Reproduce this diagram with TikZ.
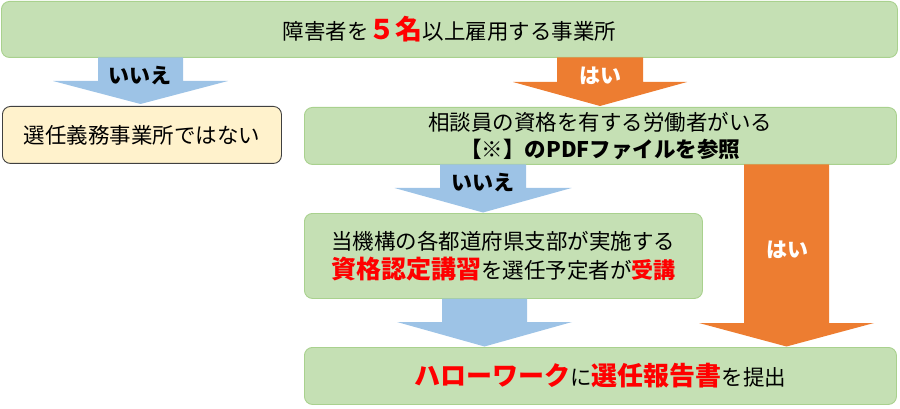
\documentclass[tikz,border=0pt]{standalone}
\usepackage{fontspec}
\newfontfamily\jp{Noto Sans CJK JP}
\definecolor{boxgreen}{HTML}{C5E0B4}
\definecolor{boxgreenline}{HTML}{A9D18E}
\definecolor{boxcream}{HTML}{FFF2CC}
\definecolor{arrblue}{HTML}{9DC3E6}
\definecolor{arrorange}{HTML}{ED7D31}
\definecolor{txtred}{HTML}{FF0000}
\newcommand{\rb}[2][26]{{\fontsize{#1}{#1}\selectfont\bfseries\color{txtred}#2}}
% cx, shaft top, head top, tip, shaft half width, head half width, colour
\newcommand{\myblockarrow}[7]{%
  \fill[#7] (#1-#5,#2) -- (#1+#5,#2) -- (#1+#5,#3) -- (#1+#6,#3) -- (#1,#4)
    -- (#1-#6,#3) -- (#1-#5,#3) -- cycle;}
\begin{document}
\begin{tikzpicture}[x=1pt,y=-1pt,
  greenbox/.style={draw=boxgreenline, line width=0.9pt, fill=boxgreen, rounded corners=8pt,
    anchor=north west, inner sep=0pt, align=center,
    font=\jp\fontsize{21.5}{27}\selectfont},
  creambox/.style={greenbox, draw=black!75, fill=boxcream},
  arrlabel/.style={font=\jp\fontsize{21}{21}\selectfont\bfseries, inner sep=0pt},
]
\useasboundingbox (0,0) rectangle (900,409);

% boxes
\node[greenbox, minimum width=896pt, minimum height=56pt] (top) at (1,1)
  {障害者を\rb[27]{５名}以上雇用する事業所};
\node[creambox, minimum width=279pt, minimum height=57pt] (no1) at (2,106)
  {選任義務事業所ではない};
\node[greenbox, minimum width=592pt, minimum height=57pt] (mid) at (304,107)
  {相談員の資格を有する労働者がいる\\{\bfseries 【※】のPDFファイルを参照}};
\node[greenbox, minimum width=398pt, minimum height=85pt] (course) at (304,213)
  {当機構の各都道府県支部が実施する\\[2pt]\rb[25]{資格認定講習}を選任予定者が\rb[22]{受講}};
\node[greenbox, minimum width=592pt, minimum height=57pt] (report) at (304,347)
  {\rb{ハローワーク}に\rb{選任報告書}を提出};

% block arrows
\myblockarrow{140.5}{57.5}{81}{104}{42.5}{87.5}{arrblue}
\myblockarrow{600}{57.5}{82}{106}{43}{87}{arrorange}
\myblockarrow{483}{164.5}{188}{212.5}{43}{88.5}{arrblue}
\myblockarrow{786.5}{164.5}{323}{346.5}{42.5}{87.5}{arrorange}
\myblockarrow{484.5}{298.5}{322}{346.5}{42.5}{87.5}{arrblue}

% arrow labels
\node[arrlabel] (l1) at (140,76) {いいえ};
\node[arrlabel, text=white] (l2) at (600,76) {はい};
\node[arrlabel] (l3) at (483,183) {いいえ};
\node[arrlabel, text=white] (l4) at (787,250) {はい};
\end{tikzpicture}
\end{document}
